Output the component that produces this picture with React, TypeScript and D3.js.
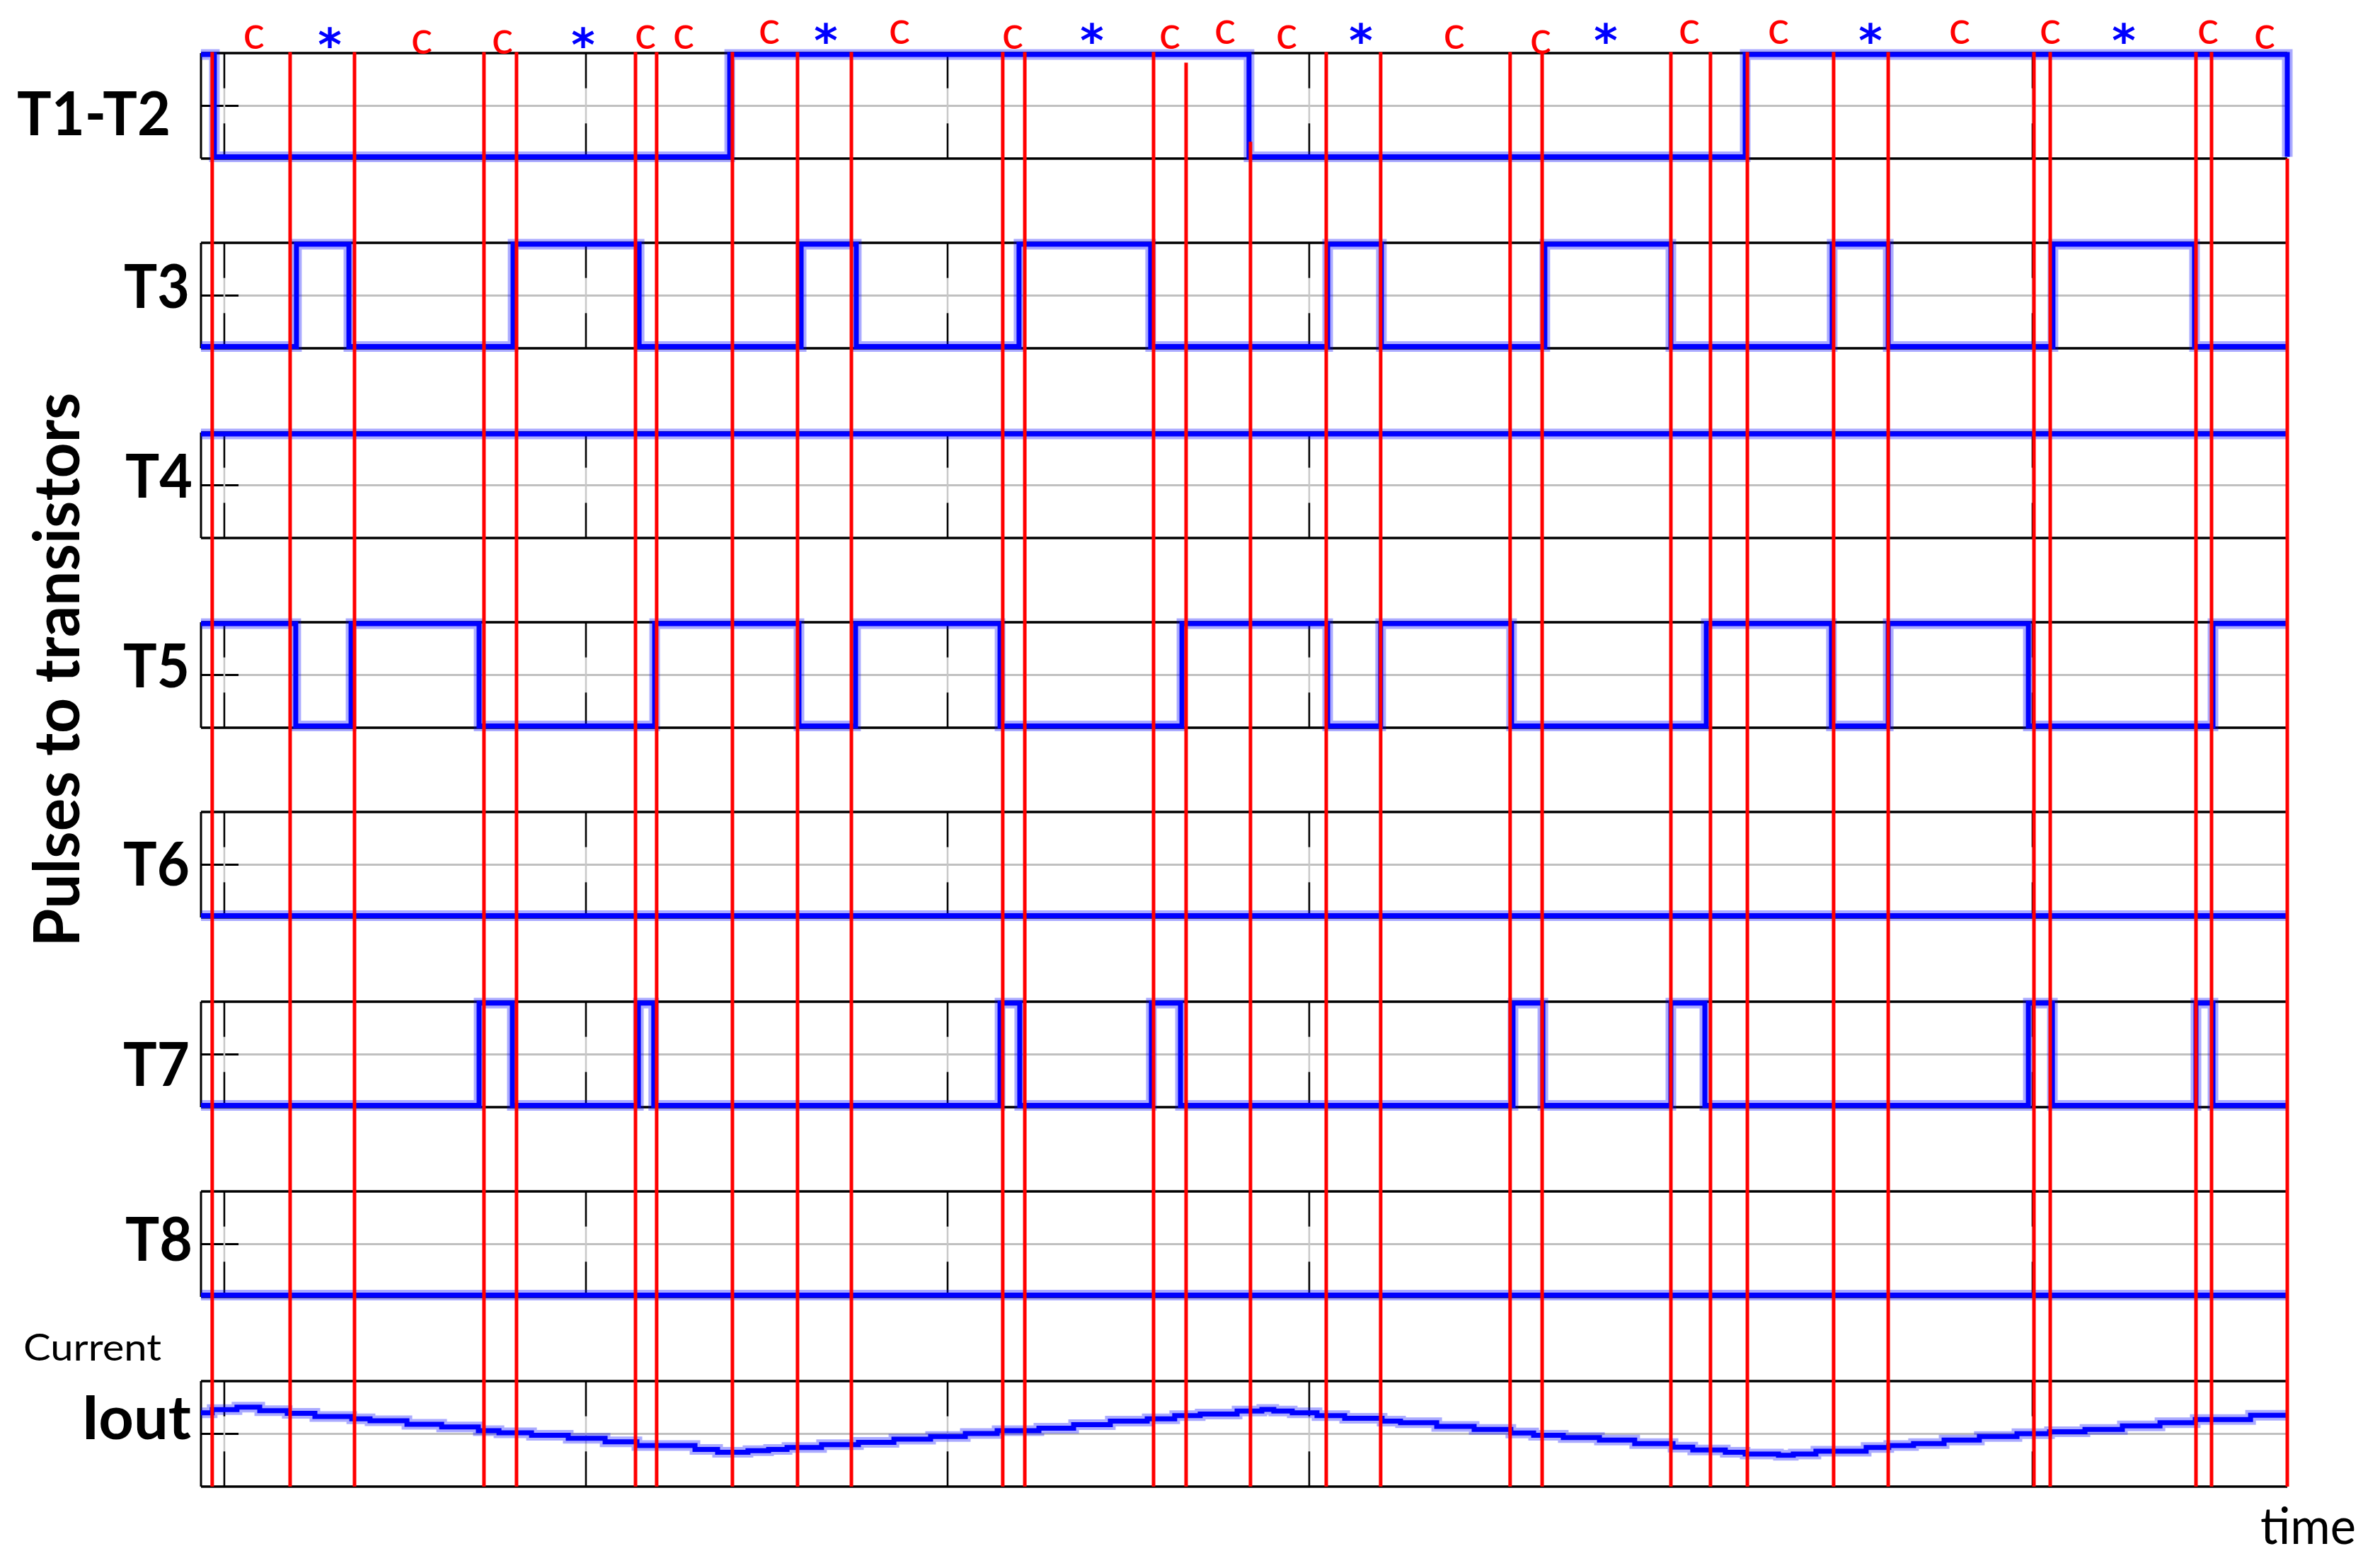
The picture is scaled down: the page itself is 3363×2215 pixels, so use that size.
import * as d3 from 'd3'

const W = 3363
const H = 2215

// time axis (arbitrary units, grid every 20)
const T_START = -1.29
const T_END = 114.09
const GRID_TIMES = [0, 20, 40, 60, 80, 100]

const ROWS = ['T1-T2', 'T3', 'T4', 'T5', 'T6', 'T7', 'T8', 'Iout']

// gate signals: level at start and the times where they toggle
const T12_INIT = 1
const T12_EDGES = [-0.55, 27.95, 56.67, 84.11, 114.09]
const T3_INIT = 0
const T3_EDGES = [3.99, 6.89, 15.97, 22.94, 31.9, 34.95, 43.95, 51.23, 61.02, 63.99, 73.03, 80.0, 88.92, 92.02, 101.13, 108.96]
const T4_INIT = 1
const T4_EDGES: number[] = []
const T5_INIT = 1
const T5_EDGES = [3.95, 7.01, 14.09, 23.8, 31.78, 34.91, 42.9, 52.96, 61.02, 63.95, 71.19, 81.96, 88.88, 92.02, 99.77, 109.98]
const T6_INIT = 0
const T6_EDGES: number[] = []
const T7_INIT = 0
const T7_EDGES = [14.09, 15.93, 22.9, 23.75, 42.9, 43.99, 51.27, 52.88, 71.27, 72.92, 80.0, 81.88, 99.77, 101.1, 109.04, 109.98]
const T8_INIT = 0
const T8_EDGES: number[] = []

// output current (normalised to the panel), step starts
const IOUT_T = [
  -1.29, -0.67, 0.7, 1.96, 3.48, 5.01, 7.05, 8.06, 10.1, 12.02, 14.05, 15.19, 16.99, 19.02, 21.06, 22.82,
  26.03, 27.28, 28.96, 30.1, 31.12, 33.03, 35.07, 37.03, 39.06, 40.98, 42.74, 45.05, 46.97, 49.0, 51.04,
  52.56, 53.97, 56.01, 57.38, 58.04, 59.06, 60.43, 61.96, 64.03, 65.05, 67.05, 69.12, 71.15, 72.41, 74.05,
  76.05, 78.0, 80.12, 81.21, 83.01, 84.11, 85.95, 86.77, 88.02, 90.8, 92.05, 93.42, 95.11, 97.06, 99.14,
  100.94, 102.9, 104.97, 107.05, 109.0, 112.06, 114.09,
]
const IOUT_V = [
  0.7, 0.73, 0.754, 0.72, 0.694, 0.665, 0.643, 0.625, 0.59, 0.565, 0.53, 0.51, 0.487, 0.458, 0.424, 0.39,
  0.353, 0.326, 0.34, 0.353, 0.37, 0.397, 0.42, 0.449, 0.475, 0.504, 0.531, 0.554, 0.587, 0.62, 0.643,
  0.672, 0.688, 0.717, 0.732, 0.717, 0.7, 0.672, 0.647, 0.62, 0.605, 0.571, 0.542, 0.509, 0.487, 0.464,
  0.442, 0.408, 0.375, 0.348, 0.326, 0.308, 0.297, 0.308, 0.335, 0.37, 0.39, 0.408, 0.442, 0.475, 0.502,
  0.52, 0.542, 0.576, 0.605, 0.636, 0.676, 0.676,
]

// red switching instants; where each starts inside the T1-T2 panel (1 = top)
const RED_T = [
  -0.67, 3.64, 7.2, 14.36, 16.16, 22.74, 23.91, 28.1, 31.7, 34.68, 43.05, 44.27, 51.39, 53.19, 56.75, 60.94,
  63.95, 71.11, 72.88, 80.0, 82.19, 84.23, 89.0, 92.02, 100.08, 100.98, 109.04, 109.9, 114.09,
]
const RED_FROM = [
  1.01, 1.01, 1.01, 1.01, 1.01, 1.01, 1.01, 1.01, 1.01, 1.01, 1.01, 1.01, 1.01, 0.91, 0.16, 1.01,
  1.01, 1.01, 1.01, 1.01, 1.01, 1.01, 1.01, 1.01, 1.01, 1.01, 1.01, 1.01, 0,
]

// annotations above the plot
const C_T = [1.64, 10.92, 15.38, 23.29, 25.4, 30.14, 37.34, 43.6, 52.29, 55.34, 58.75, 68.02, 72.8, 81.02, 85.95, 95.97, 100.98, 109.71, 112.84]
const C_ROW = [1, 2, 2, 1, 1, 0, 0, 1, 1, 0, 1, 1, 2, 0, 0, 0, 0, 0, 1]
const STAR_T = [5.83, 19.84, 33.27, 47.98, 62.86, 76.4, 91.04, 105.05]
const STAR_ROW = [1, 1, 0, 0, 0, 0, 0, 0]

const signals = [
  { name: 'T1-T2', init: T12_INIT, edges: T12_EDGES },
  { name: 'T3', init: T3_INIT, edges: T3_EDGES },
  { name: 'T4', init: T4_INIT, edges: T4_EDGES },
  { name: 'T5', init: T5_INIT, edges: T5_EDGES },
  { name: 'T6', init: T6_INIT, edges: T6_EDGES },
  { name: 'T7', init: T7_INIT, edges: T7_EDGES },
  { name: 'T8', init: T8_INIT, edges: T8_EDGES },
]

// label placement (baseline as fraction of panel height, right edge, ink width)
const LABEL_BASE = [0.78, 0.62, 0.62, 0.62, 0.7, 0.8, 0.66, 0.55]
const LABEL_END = [241, 268, 272, 268, 268, 268, 272, 270]
const LABEL_LEN = [217, 93, 95, 94, 94, 94, 95, 155]

const BLUE = '#0000ff'
const RED = '#ff0000'
const GRAY = '#c0c0c0'
const FONT = "Lato, 'Open Sans', sans-serif"

const pulsePoints = (init: number, edges: number[]) => {
  const pts: [number, number][] = [[T_START, init]]
  let lvl = init
  edges.forEach((e) => {
    lvl = 1 - lvl
    pts.push([e, lvl])
  })
  pts.push([T_END, lvl])
  return pts
}

export default function App() {
  const x = d3.scaleLinear().domain([T_START, T_END]).range([284, 3232])
  const band = d3.scaleBand<string>().domain(ROWS).range([75, 2100]).paddingInner(119 / 268).paddingOuter(0)
  const bw = band.bandwidth()
  const x0 = x(T_START)
  const x1 = x(T_END)

  const cY = d3.scaleLinear().domain([0, 2]).range([62, 76])
  const starY = d3.scaleLinear().domain([0, 1]).range([80, 86])

  const topT12 = band('T1-T2') as number
  const redFrom = d3.scaleLinear().domain([0, 1]).range([topT12 + bw, topT12])
  const ioutBottom = (band('Iout') as number) + bw

  const frames = ROWS.map((name, i) => {
    const top = band(name) as number
    const bot = top + bw
    const mid = top + bw / 2
    return (
      <g key={'f' + name}>
        <line x1={x0} x2={x1} y1={mid} y2={mid} stroke={GRAY} strokeWidth={3} />
        <line x1={x0} x2={x0 + 53} y1={mid} y2={mid} stroke="#000" strokeWidth={3} />
        {GRID_TIMES.map((g) => (
          <g key={g}>
            <line x1={x(g)} x2={x(g)} y1={top} y2={bot} stroke="#c8c8c8" strokeWidth={2.5} />
            <line x1={x(g)} x2={x(g)} y1={top} y2={top + bw / 3} stroke="#000" strokeWidth={2.5} />
            <line x1={x(g)} x2={x(g)} y1={top + (2 * bw) / 3} y2={bot} stroke="#000" strokeWidth={2.5} />
          </g>
        ))}
        <line x1={x0} x2={x1} y1={top} y2={top} stroke="#000" strokeWidth={3.5} />
        <line x1={x0} x2={x1} y1={bot} y2={bot} stroke="#000" strokeWidth={3.5} />
        <line x1={x0} x2={x0} y1={top} y2={bot} stroke="#000" strokeWidth={3} />
        <text
          x={LABEL_END[i]}
          y={top + bw * LABEL_BASE[i]}
          textAnchor="end"
          fontFamily={FONT}
          fontWeight={700}
          fontSize={86}
          textLength={LABEL_LEN[i]}
          lengthAdjust="spacingAndGlyphs"
        >
          {name}
        </text>
      </g>
    )
  })

  const waves = signals.map((s) => {
    const top = band(s.name) as number
    const y = d3.scaleLinear().domain([0, 1]).range([top + bw - 2.5, top + 2])
    const line = d3
      .line<[number, number]>()
      .x((d) => x(d[0]))
      .y((d) => y(d[1]))
      .curve(d3.curveStepAfter)
    const d = line(pulsePoints(s.init, s.edges)) as string
    return (
      <g key={'w' + s.name}>
        <path d={d} fill="none" stroke={BLUE} strokeOpacity={0.33} strokeWidth={15} />
        <path d={d} fill="none" stroke={BLUE} strokeWidth={7} />
      </g>
    )
  })

  const ioutTop = band('Iout') as number
  const yI = d3.scaleLinear().domain([0, 1]).range([ioutTop + bw, ioutTop])
  const ioutLine = d3
    .line<number>()
    .x((d) => x(d))
    .y((_, i) => yI(IOUT_V[i]))
    .curve(d3.curveStepAfter)
  const ioutD = ioutLine(IOUT_T) as string

  return (
    <svg width={W} height={H} style={{ position: 'absolute', left: 0, top: 0, background: '#fff' }}>
      <rect width={W} height={H} fill="#fff" />
      {frames}
      {waves}
      <path d={ioutD} fill="none" stroke={BLUE} strokeOpacity={0.33} strokeWidth={15} />
      <path d={ioutD} fill="none" stroke={BLUE} strokeWidth={7} />

      {RED_T.map((t, i) => (
        <line key={'r' + i} x1={x(t)} x2={x(t)} y1={redFrom(RED_FROM[i])} y2={ioutBottom} stroke={RED} strokeWidth={5} />
      ))}

      {C_T.map((t, i) => (
        <text key={'c' + i} x={x(t)} y={cY(C_ROW[i])} textAnchor="middle" fontFamily={FONT} fontSize={64} fill={RED}>
          c
        </text>
      ))}
      {STAR_T.map((t, i) => (
        <text
          key={'s' + i}
          x={x(t)}
          y={starY(STAR_ROW[i])}
          textAnchor="middle"
          fontFamily="'DejaVu Sans', sans-serif"
          fontWeight={700}
          fontSize={64}
          fill={BLUE}
        >
          *
        </text>
      ))}

      <text
        transform="translate(112,946) rotate(-90)"
        textAnchor="middle"
        fontFamily={FONT}
        fontWeight={700}
        fontSize={90}
        textLength={783}
        lengthAdjust="spacingAndGlyphs"
      >
        Pulses to transistors
      </text>
      <text x={33} y={1922} fontFamily={FONT} fontSize={53} textLength={195} lengthAdjust="spacingAndGlyphs">
        Current
      </text>
      <text x={3194} y={2181} fontFamily={FONT} fontSize={72} textLength={135} lengthAdjust="spacingAndGlyphs">
        time
      </text>
    </svg>
  )
}
